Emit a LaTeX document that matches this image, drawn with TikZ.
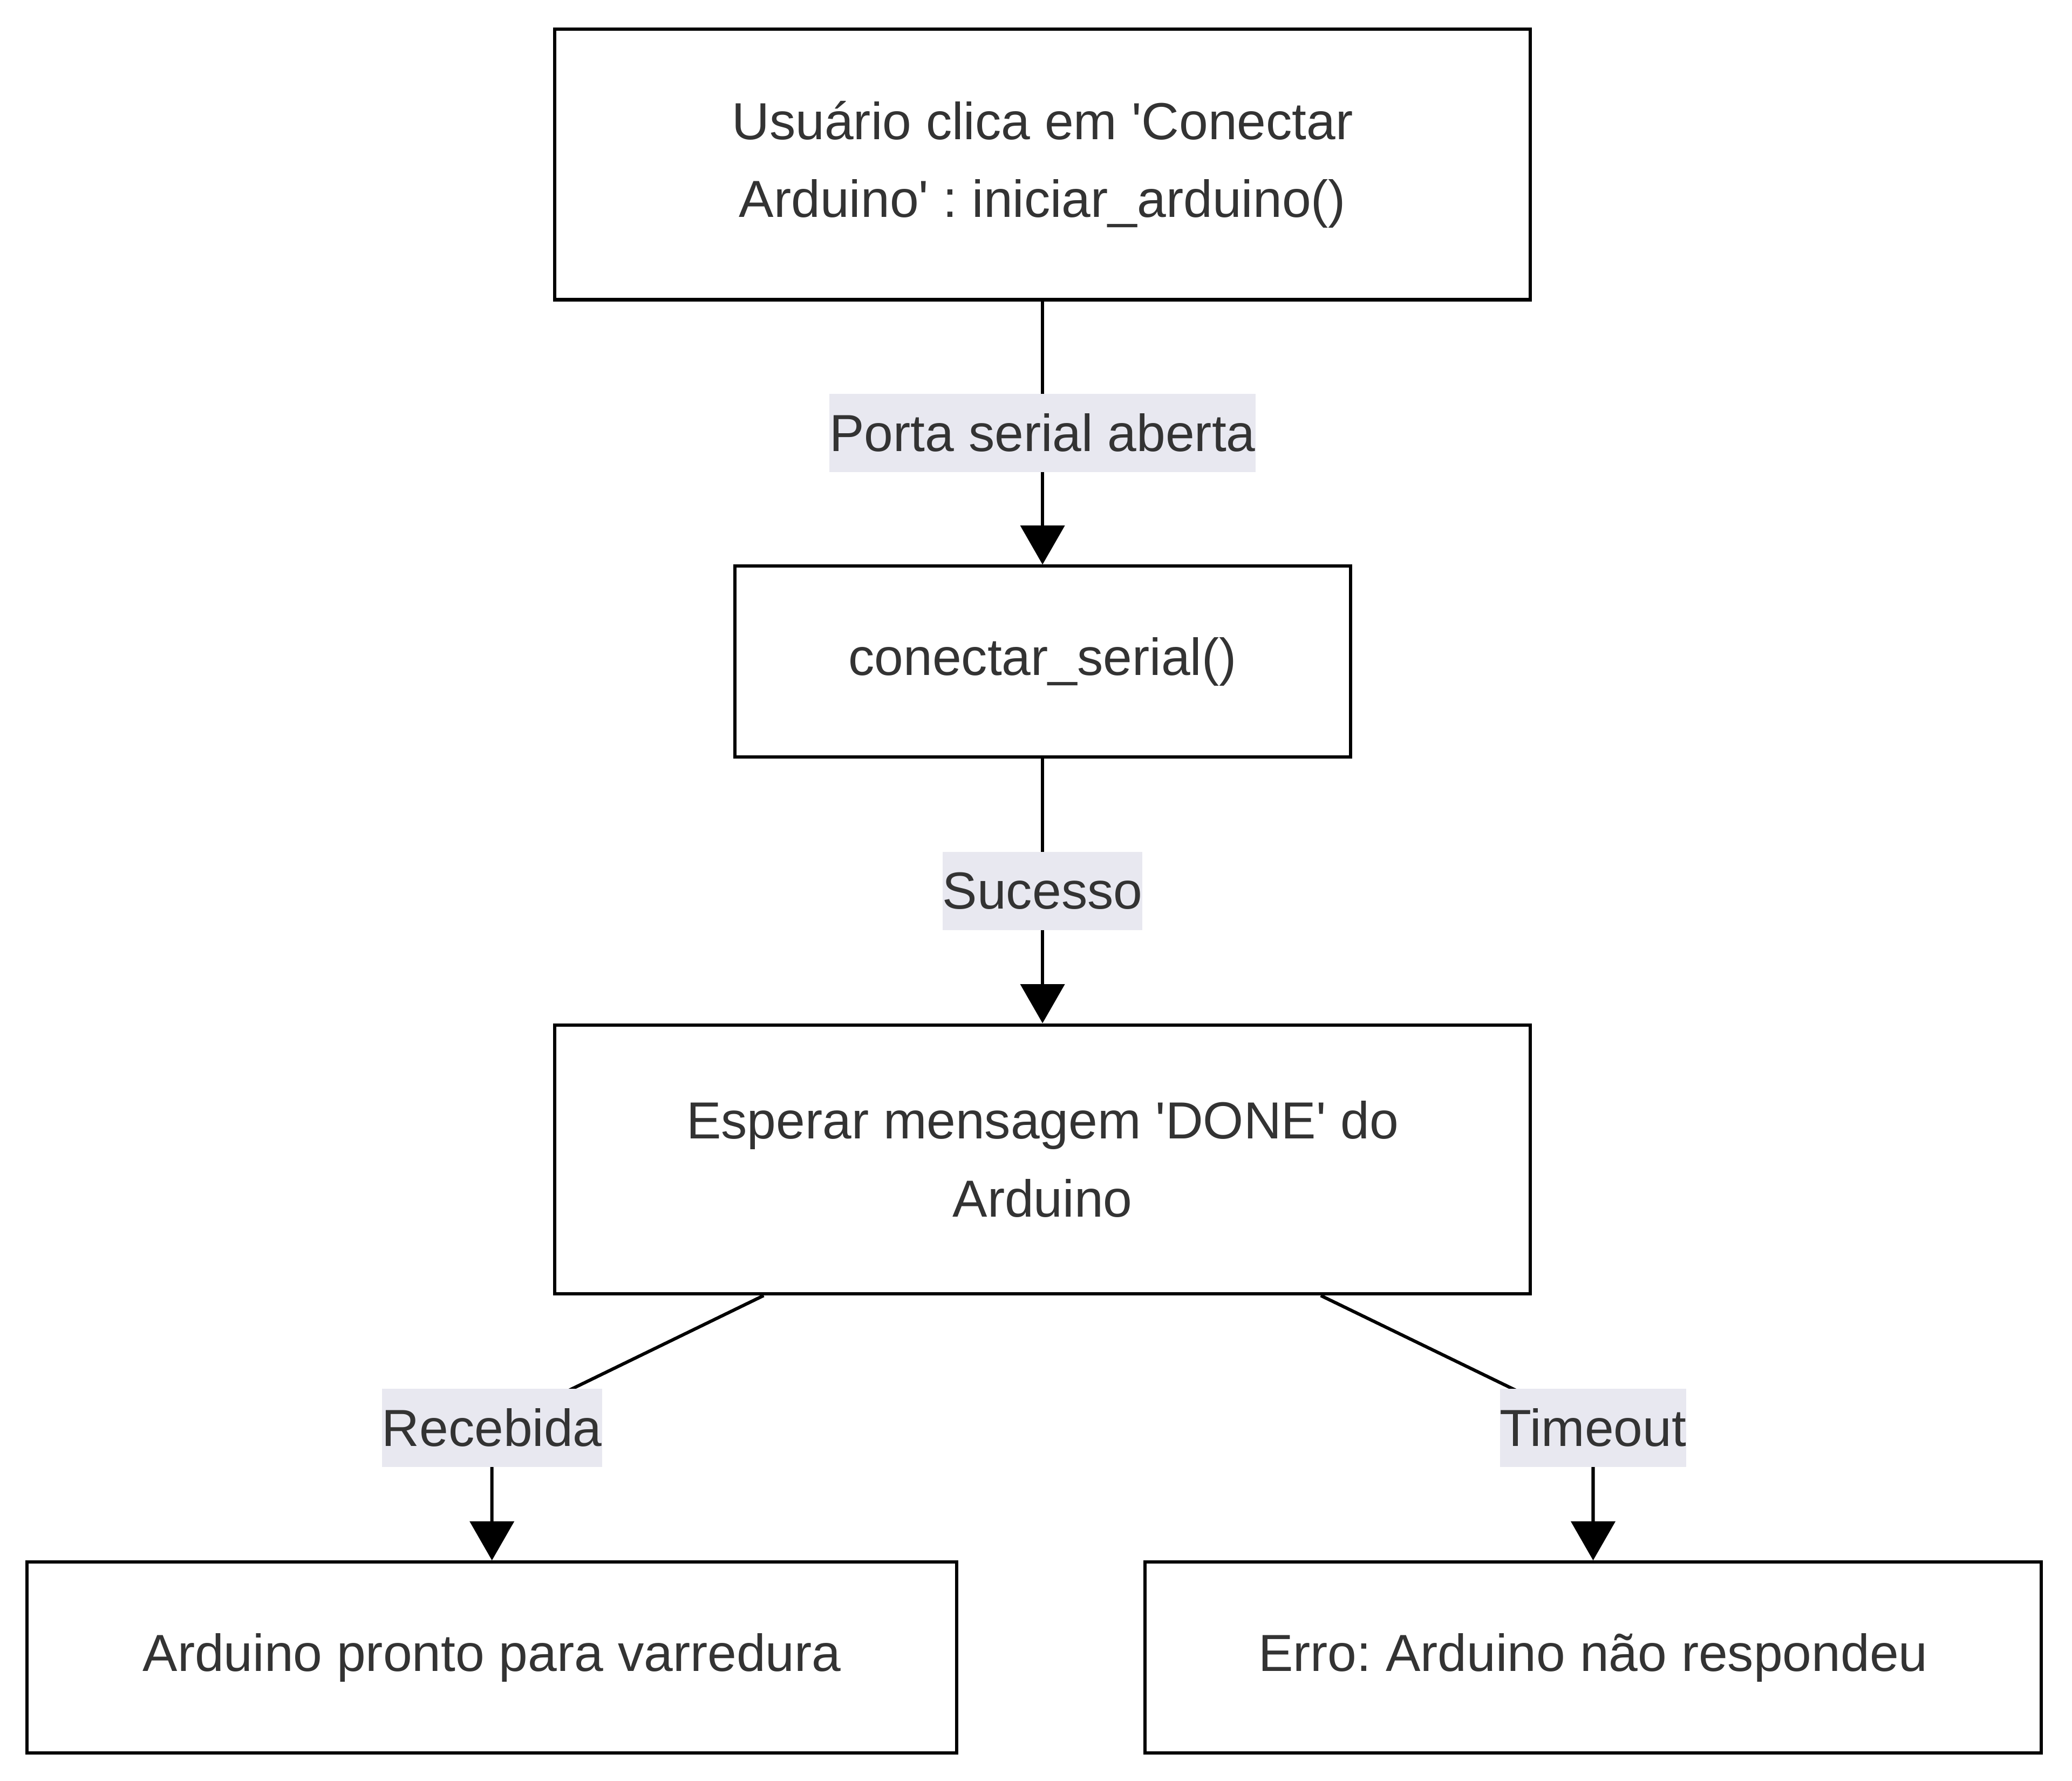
\documentclass[tikz,border=0pt]{standalone}
\usepackage{fontspec}
\setmainfont{Liberation Sans}
\usetikzlibrary{arrows.meta}
\frenchspacing
\definecolor{txtgray}{HTML}{333333}
\definecolor{lblbg}{RGB}{232,232,240}
\tikzset{
	stepbox/.style={draw=black,line width=1pt,fill=white,text=txtgray,inner sep=0pt,align=center,font=\fontsize{16}{24}\selectfont},
	edgelbl/.style={fill=lblbg,text=txtgray,inner xsep=0pt,inner ysep=0pt,minimum height=24pt,font=\fontsize{16}{24}\selectfont},
	flow/.style={draw=black,line width=1pt,-{Triangle[length=12pt,width=13.5pt]}}
}

\begin{document}
\begin{tikzpicture}[x=1pt,y=-1pt]
\fill[white] (0,0) rectangle (636,546.7);
\useasboundingbox (0,0) rectangle (636,546.7);

\node[stepbox,minimum width=299.5pt,minimum height=83pt] (clique) at (320,50.5) {Usuário clica em \textquotesingle Conectar\\Arduino\textquotesingle{} : iniciar\_arduino()};
\node[stepbox,minimum width=189pt,minimum height=58.6pt] (serial) at (320,203.1) {conectar\_serial()};
\node[stepbox,minimum width=299.5pt,minimum height=82.6pt] (esperar) at (320,355.9) {Esperar mensagem \textquotesingle DONE\textquotesingle{} do\\Arduino};
\node[stepbox,minimum width=285.3pt,minimum height=58.6pt] (pronto) at (151,508.8) {Arduino pronto para varredura};
\node[stepbox,minimum width=275.2pt,minimum height=58.6pt] (erro) at (489,508.8) {Erro: Arduino não respondeu};

\draw[flow] (clique) -- node[edgelbl]{Porta serial aberta} (serial);
\draw[flow] (serial) -- node[edgelbl]{Sucesso} (esperar);
\draw[flow] ([xshift=-85.6pt]esperar.south) -- (pronto.north |- 0,438.3) node[edgelbl]{Recebida} -- (pronto);
\draw[flow] ([xshift=85.4pt]esperar.south) -- (erro.north |- 0,438.3) node[edgelbl]{Timeout} -- (erro);

\end{tikzpicture}
\end{document}
